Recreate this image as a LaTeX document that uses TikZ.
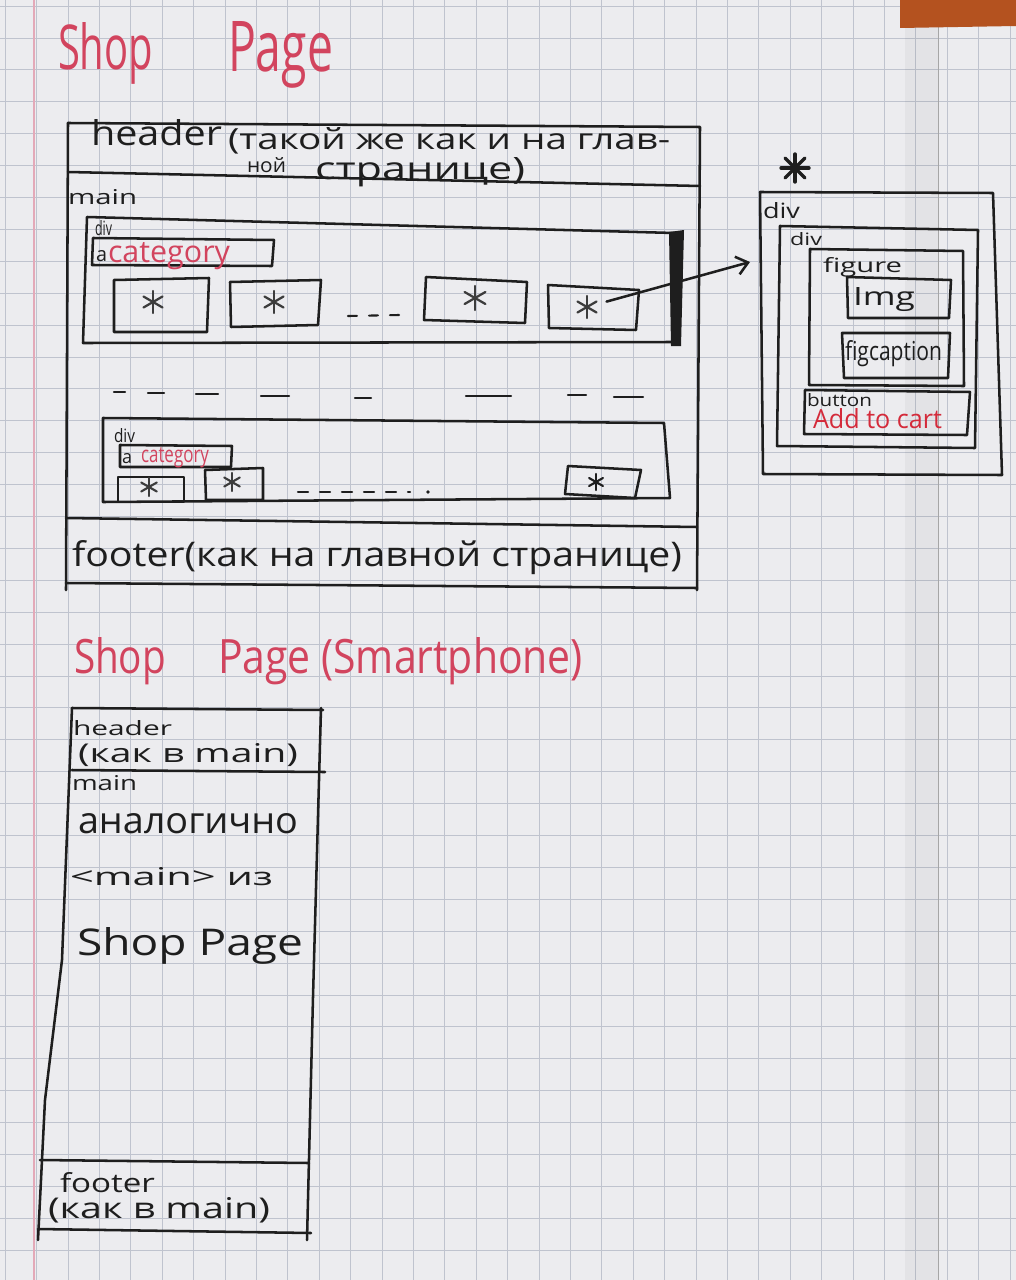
\documentclass[tikz,border=0pt]{standalone}
\usepackage{fontspec}
\setmainfont{Open Sans}
\usetikzlibrary{arrows.meta,calc}
\newlength\pxu
\setlength\pxu{0.025cm}
% text scaled into a box: width, height above baseline, text
\newcommand\hw[3]{\resizebox{#1\pxu}{#2\pxu}{#3}}
% hand-drawn asterisk around a named point: point, radius, line width, colour, angles
\newcommand\astk[5]{\foreach \a in {#5}{\draw[#4, line width=#3, line cap=round] ($(#1)+(\a:#2)$) -- ($(#1)+(\a+180:#2)$);}}
\definecolor{paper}{HTML}{ECECEF}
\definecolor{gridc}{HTML}{BFC3CE}
\definecolor{margin}{HTML}{E3A9B8}
\definecolor{ink}{HTML}{1E1E1E}
\definecolor{pencil}{HTML}{3C3C3C}
\definecolor{redink}{HTML}{D2445E}
\definecolor{cartred}{HTML}{D42A3A}
\definecolor{desk}{HTML}{B4521F}
\begin{document}
\begin{tikzpicture}[x=0.025cm,y=-0.025cm,line join=round,line cap=round,
  sk/.style={draw=ink,line width=1.8pt},
  txt/.style={anchor=base west,inner sep=0pt,outer sep=0pt,text=ink},
  rtxt/.style={txt,text=redink},
  hub/.style={circle,inner sep=0pt,minimum size=#1\pxu}]

% ---------- squared paper ----------
\fill[paper] (0,0) rectangle (1016,1280);
\useasboundingbox (0,0) rectangle (1016,1280);
\foreach \i in {0,...,32} \draw[gridc,line width=0.6pt] ({5.2+31.4*\i},0) -- ++(0,1280);
\foreach \j in {0,...,40} \draw[gridc,line width=0.6pt] (0,{6.1+31.9*\j}) -- ++(1016,0);
\draw[margin,line width=0.9pt] (34,0) -- (34,1280);
\fill[black,opacity=0.035] (905,26) rectangle (938,1280);
\draw[gray!70,line width=0.6pt] (938,26) -- (938,1280);
\fill[desk] (900,0) -- (1016,0) -- (1016,26) -- (900,28) -- cycle;

% ---------- Shop Page ----------
\node[rtxt] (t1a) at (58,70) {\hw{95}{47}{Shop}};
\node[rtxt] (t1b) at (228,72) {\hw{105}{50}{Page}};

% page frame
\draw[sk] (68,123) -- (700,127) -- (697,590);
\draw[sk] (68,123) -- (66,590);
\draw[sk] (68,172) -- (700,186);
\draw[sk] (66,518) -- (697,527);
\draw[sk] (66,583) -- (697,588);

\node[txt] (hd1) at (91,146) {\hw{131}{26}{header}};
\node[txt] (hd2) at (228,150) {\hw{442}{22}{(такой же как и на глав-}};
\node[txt] (hd3) at (247,173) {\hw{39}{15}{ной}};
\node[txt] (hd4) at (315,180) {\hw{210}{22}{странице)}};
\node[txt] (mn) at (68,205) {\hw{69}{15}{main}};

% first category block
\draw[sk] (87,217) -- (674,233) -- (674,342) -- (83,343) -- cycle;
\fill[ink] (669,232) -- (684,230) -- (681,346) -- (671,346) -- cycle;
\node[txt] (dv1) at (95,235) {\hw{17}{15}{div}};
\draw[sk] (93,238) -- (274,240) -- (272,266) -- (92,265) -- cycle;
\node[txt] (aa1) at (96,262) {\hw{11}{11}{a}};
\node[rtxt] (ct1) at (108,262) {\hw{122}{20}{category}};

\draw[sk] (114,280) -- (209,278) -- (207,332) -- (114,332) -- cycle;
\draw[sk] (230,282) -- (321,280) -- (318,325) -- (231,327) -- cycle;
\draw[sk] (426,277) -- (527,282) -- (525,323) -- (424,320) -- cycle;
\draw[sk] (548,285) -- (639,290) -- (636,330) -- (549,328) -- cycle;
\node[hub=10] (s1) at (153,302) {};
\node[hub=10] (s2) at (274,302) {};
\node[hub=10] (s3) at (475,298) {};
\node[hub=40] (s4) at (587,307) {};
\astk{s1}{11}{1.6pt}{pencil}{90,30,150}
\astk{s2}{11}{1.6pt}{pencil}{90,30,150}
\astk{s3}{12}{1.6pt}{pencil}{90,30,150}
\astk{s4}{11}{1.6pt}{pencil}{90,30,150}
\draw[ink,line width=1.5pt,dash pattern=on 9\pxu off 12\pxu] (348,316) -- (400,315);

% separator between blocks
\foreach \xa/\xb/\yy in {114/125/392,148/164/393,196/218/394,261/289/396,355/371/398,466/511/396,568/586/395,614/643/397}
  \draw[ink,line width=1.6pt] (\xa,\yy) -- (\xb,\yy);

% last category block
\draw[sk] (103,418) -- (664,423) -- (670,498) -- (103,502) -- cycle;
\node[txt] (dv2) at (114,442) {\hw{21}{14}{div}};
\draw[sk] (120,445) -- (232,446) -- (231,467) -- (120,467) -- cycle;
\node[txt] (aa2) at (122,463) {\hw{10}{10}{a}};
\node[rtxt] (ct2) at (141,462) {\hw{68}{15}{category}};
\draw[sk] (118,477) -- (184,477) -- (184,502) -- (118,502) -- cycle;
\draw[sk] (205,470) -- (263,468) -- (263,500) -- (206,500) -- cycle;
\draw[sk] (568,466) -- (641,470) -- (635,498) -- (565,494) -- cycle;
\node[hub=10] (s5) at (149,487) {};
\node[hub=10] (s6) at (232,482) {};
\node[hub=10] (s7) at (596,482) {};
\astk{s5}{9}{1.5pt}{pencil}{90,30,150}
\astk{s6}{9}{1.5pt}{pencil}{90,30,150}
\astk{s7}{8}{1.5pt}{ink}{90,30,150}
\draw[ink,line width=1.5pt,dash pattern=on 10\pxu off 12\pxu] (298,492) -- (410,492);
\fill[ink] (428,492) circle (1.8\pxu);

\node[txt] (ft1) at (72,566) {\hw{610}{26}{footer(как на главной странице)}};

% ---------- product card in detail ----------
\node[hub=6] (bigstar) at (795,168) {};
\astk{bigstar}{14}{2.4pt}{ink}{0,45,90,135}
\coordinate (arrtip) at (750,262);
\draw[sk,-{Straight Barb[length=8pt,width=13pt]}] (s4) -- (arrtip);

\draw[sk] (760,192) -- (993,193) -- (1002,475) -- (763,474) -- cycle;
\node[txt] (e1) at (763,219) {\hw{37}{16}{div}};
\draw[sk] (780,226) -- (978,230) -- (975,448) -- (777,446) -- cycle;
\node[txt] (e2) at (790,245) {\hw{32}{13}{div}};
\draw[sk] (810,249) -- (963,251) -- (964,386) -- (809,385) -- cycle;
\node[txt] (e3) at (823,273) {\hw{79}{15}{figure}};
\draw[sk] (847,277) -- (951,280) -- (949,318) -- (848,318) -- cycle;
\node[txt] (e4) at (853,305) {\hw{62}{18}{Img}};
\draw[sk] (842,333) -- (950,333) -- (948,378) -- (844,378) -- cycle;
\node[txt] (e5) at (845,360) {\hw{97}{20}{figcaption}};
\draw[sk] (805,390) -- (970,392) -- (967,435) -- (804,434) -- cycle;
\node[txt] (e6) at (807,406) {\hw{65}{13}{button}};
\node[txt,text=cartred] (e7) at (813,428) {\hw{129}{20}{Add to cart}};

% ---------- Shop Page (Smartphone) ----------
\node[rtxt] (t2a) at (74,673) {\hw{92}{36}{Shop}};
\node[rtxt] (t2b) at (218,673) {\hw{365}{36}{Page (Smartphone)}};

\draw[sk] (72,708) -- (323,710);
\draw[sk] (72,708) -- (62,960) -- (45,1100) -- (38,1240);
\draw[sk] (321,708) -- (313,997) -- (307,1240);
\draw[sk] (72,770) -- (325,772);
\draw[sk] (40,1160) -- (309,1163);
\draw[sk] (38,1229) -- (311,1233);

\node[txt] (p1) at (73,735) {\hw{99}{15}{header}};
\node[txt] (p2) at (78,762) {\hw{220}{19}{(как в main)}};
\node[txt] (p3) at (72,790) {\hw{65}{15}{main}};
\node[txt] (p4) at (78,833) {\hw{220}{20}{аналогично}};
\node[txt] (p5) at (70,885) {\hw{203}{18}{<main> из}};
\node[txt] (p6) at (77,955) {\hw{226}{28}{Shop Page}};
\node[txt] (p7) at (60,1192) {\hw{95}{20}{footer}};
\node[txt] (p8) at (48,1218) {\hw{222}{21}{(как в main)}};
\end{tikzpicture}
\end{document}
